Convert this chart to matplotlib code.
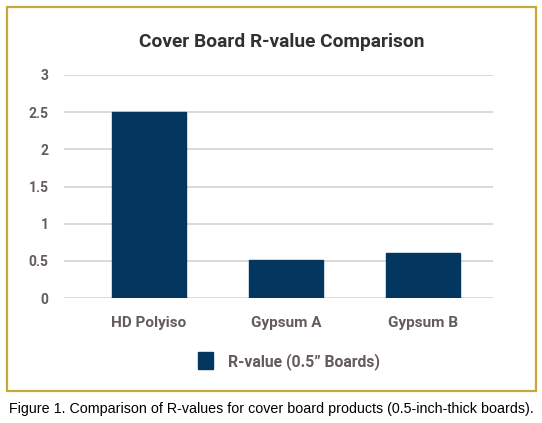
import matplotlib
matplotlib.use("Agg")
import matplotlib.pyplot as plt
from matplotlib.patches import Rectangle

categories = ["HD Polyiso", "Gypsum A", "Gypsum B"]
r_values = [2.5, 0.51, 0.6]
y_ticks = [0, 0.5, 1, 1.5, 2, 2.5, 3]
y_tick_labels = ["0", "0.5", "1", "1.5", "2", "2.5", "3"]
series_label = "R-value (0.5\u201d Boards)"
title = "Cover Board R-value Comparison"
caption = "Figure 1. Comparison of R-values for cover board products (0.5-inch-thick boards)."

navy = "#03375F"
grid_col = "#D8D3D3"
text_col = "#645C5C"

plt.rcParams['font.family'] = ['Roboto', 'DejaVu Sans']

fig = plt.figure(figsize=(5.42, 4.23), dpi=100)
fig.patch.set_facecolor("white")

# gold frame around the chart
fig.patches.append(Rectangle((7 / 542, 1 - 391 / 423), 529 / 542, 384 / 423,
                             transform=fig.transFigure, fill=False,
                             edgecolor="#C9A838", linewidth=1.6))

ax = fig.add_axes([64 / 542, 1 - 298 / 423, 429 / 542, 223 / 423])
x = range(len(categories))
bars = ax.bar(x, r_values, width=0.54, color=navy, edgecolor=navy, zorder=3,
              label=series_label)
ax.set_xlim(-0.62, 2.51)
ax.set_ylim(0, 3)
ax.set_yticks(y_ticks)
ax.set_yticklabels(y_tick_labels)
ax.set_xticks(list(x))
ax.set_xticklabels(categories)
ax.yaxis.grid(True, color=grid_col, linewidth=1.2, zorder=0)
ax.set_axisbelow(True)
for s in ax.spines.values():
    s.set_visible(False)
ax.tick_params(axis="both", length=0)
ax.tick_params(axis="y", pad=11, labelsize=10, labelcolor=text_col)
ax.tick_params(axis="x", pad=13, labelsize=11, labelcolor=text_col)
for lbl in ax.get_xticklabels():
    lbl.set_fontweight("bold")
for lbl in ax.get_yticklabels():
    lbl.set_fontweight("bold")

fig.text(282 / 542, 1 - 42 / 423, title, ha="center", va="center",
         fontsize=13.8, fontweight="bold", color="#333030")

leg = fig.legend(handles=[bars], labels=[series_label], loc="center",
                 bbox_to_anchor=(289 / 542, 1 - 361 / 423), frameon=False,
                 handlelength=0.95, handleheight=1.3, handletextpad=0.9,
                 prop={"size": 11.3, "weight": "bold"})
for t in leg.get_texts():
    t.set_color(text_col)

fig.text(271 / 542, 1 - 409 / 423, caption, ha="center", va="center",
         fontsize=10.3, color="black", family=["Liberation Sans", "DejaVu Sans"])

fig.savefig("out.png", dpi=100)
